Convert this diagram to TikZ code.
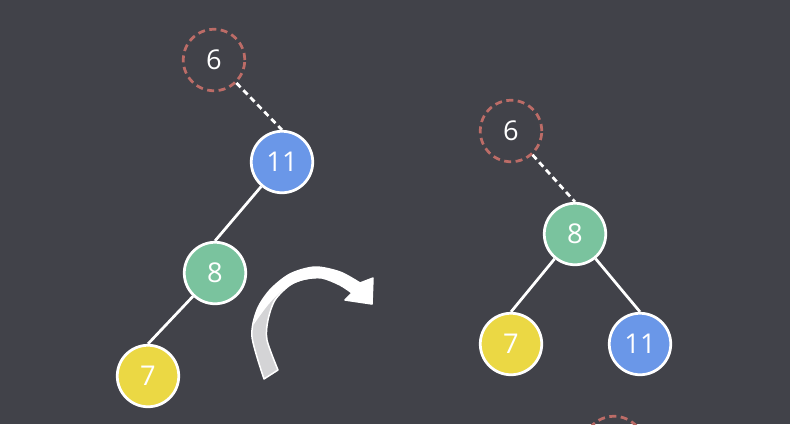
\documentclass[tikz,border=0pt]{standalone}
\usepackage{fontspec}
\setmainfont{Open Sans}

\definecolor{bg}{RGB}{65,66,73}
\definecolor{keyblue}{RGB}{106,151,232}
\definecolor{keygreen}{RGB}{122,195,158}
\definecolor{keyyellow}{RGB}{235,216,68}
\definecolor{keyred}{RGB}{188,108,103}
\definecolor{turngray}{RGB}{212,212,214}

\begin{document}
\begin{tikzpicture}[x=0.02cm, y=-0.02cm,
    key/.style={circle, draw=white, line width=0.055cm, minimum size=1.23cm,
                inner sep=0pt, text=white, font=\fontsize{15.5}{17}\selectfont},
    bkey/.style={key, fill=keyblue},
    gkey/.style={key, fill=keygreen},
    ykey/.style={key, fill=keyyellow},
    gone/.style={key, draw=keyred, dash pattern=on 0.14cm off 0.09cm},
    link/.style={draw=white, line width=0.055cm},
    dlink/.style={link, dash pattern=on 0.12cm off 0.08cm}]
  \fill[bg] (0,0) rectangle (790,424);
  \useasboundingbox (0,0) rectangle (790,424);
  \clip (0,0) rectangle (790,424);

  % before the rotation
  \node[gone] (l6) at (214,60) {6};
  \node[bkey] (l11) at (282,162) {11};
  \node[gkey] (l8) at (215,273) {8};
  \node[ykey] (l7) at (148,376) {7};
  \draw[dlink] (l6) -- (l11.north);
  \draw[link] (l11) -- (l8.north);
  \draw[link] (l8) -- (l7.north);

  % the turn arrow
  \filldraw[fill=turngray, draw=white, line width=0.03cm, line join=round]
    plot[smooth] coordinates {(264,379) (252,337) (257,310) (270,290) (290,274) (315,267) (340,272) (360,283)}
    -- (373,278) -- (372,304) -- (345,300)
    -- plot[smooth] coordinates {(352,293) (340,285) (322,278) (305,279) (290,285) (275,300) (268,320) (267,340) (278,370)}
    -- cycle;
  \fill[white]
    plot[smooth] coordinates {(254,324) (257,310) (270,290) (290,274) (315,267) (340,272) (360,283)}
    -- (373,278) -- (372,304) -- (345,300)
    -- plot[smooth] coordinates {(352,293) (340,285) (322,278) (300,281) (283,290) (268,305) (254,324)}
    -- cycle;

  % after the rotation
  \node[gone] (r6) at (511,131) {6};
  \node[gkey] (r8) at (575,234) {8};
  \node[ykey] (r7) at (511,344) {7};
  \node[bkey] (r11) at (640,344) {11};
  \node[gone] (r9) at (614,447) {};
  \draw[dlink] (r6) -- (r8.north);
  \draw[link] (r8) -- (r7.north);
  \draw[link] (r8) -- (r11.north);
\end{tikzpicture}
\end{document}
